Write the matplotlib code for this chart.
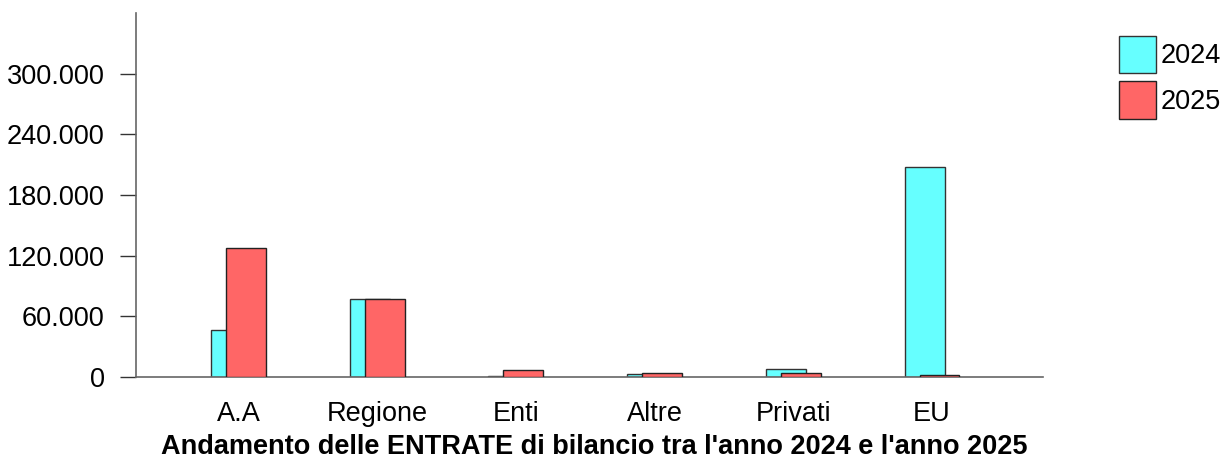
import numpy as np
import matplotlib
matplotlib.use('Agg')
import matplotlib.pyplot as plt
from matplotlib.ticker import FuncFormatter

categorie = ['A.A', 'Regione', 'Enti', 'Altre', 'Privati', 'EU']
anni = ['2024', '2025']
entrate_2024 = [46500, 77200, 500, 3400, 8300, 208000]
entrate_2025 = [127700, 77000, 6500, 4400, 4400, 2400]
y_ticks = [0, 60000, 120000, 180000, 240000, 300000]

plt.rcParams['font.family'] = ['Liberation Sans', 'DejaVu Sans']

fig = plt.figure(figsize=(12.25, 4.61), dpi=100)
ax = fig.add_axes([136/1225, 1-377/461, (1043-136)/1225, (377-13)/461])

x = np.arange(len(categorie))
w = 0.288
off = 0.054
b1 = ax.bar(x - off, entrate_2024, width=w, color='#66FFFF', edgecolor='#333333', linewidth=1, label=anni[0], zorder=2)
b2 = ax.bar(x + off, entrate_2025, width=w, color='#FF6666', edgecolor='#222222', linewidth=1, label=anni[1], zorder=3)

ax.set_xlim(-0.739, 5.80)
ax.set_ylim(0, 360000)
ax.set_yticks(y_ticks)
ax.yaxis.set_major_formatter(FuncFormatter(lambda v, p: f'{int(v):,}'.replace(',', '.')))
ax.set_xticks(x)
ax.set_xticklabels(categorie)
ax.tick_params(axis='x', length=0, pad=17, labelsize=19.5)
ax.tick_params(axis='y', length=11.5, width=1, color='#333333', pad=11, labelsize=19.5)

for s in ['top', 'right']:
    ax.spines[s].set_visible(False)
for s in ['left', 'bottom']:
    ax.spines[s].set_color('#666666')
    ax.spines[s].set_linewidth(1.2)

fig.text(0.485, 1-447/461, "Andamento delle ENTRATE di bilancio tra l'anno 2024 e l'anno 2025",
         ha='center', va='center', fontsize=19.5, fontweight='bold')

fig.legend(handles=[b1, b2], labels=anni, loc='upper left', bbox_to_anchor=(1105/1225, 1-22/461),
           frameon=False, fontsize=19.5, handlelength=1.4, handleheight=1.75, handletextpad=0.15,
           labelspacing=0.3, borderpad=0)

fig.savefig('out.png', dpi=100)
